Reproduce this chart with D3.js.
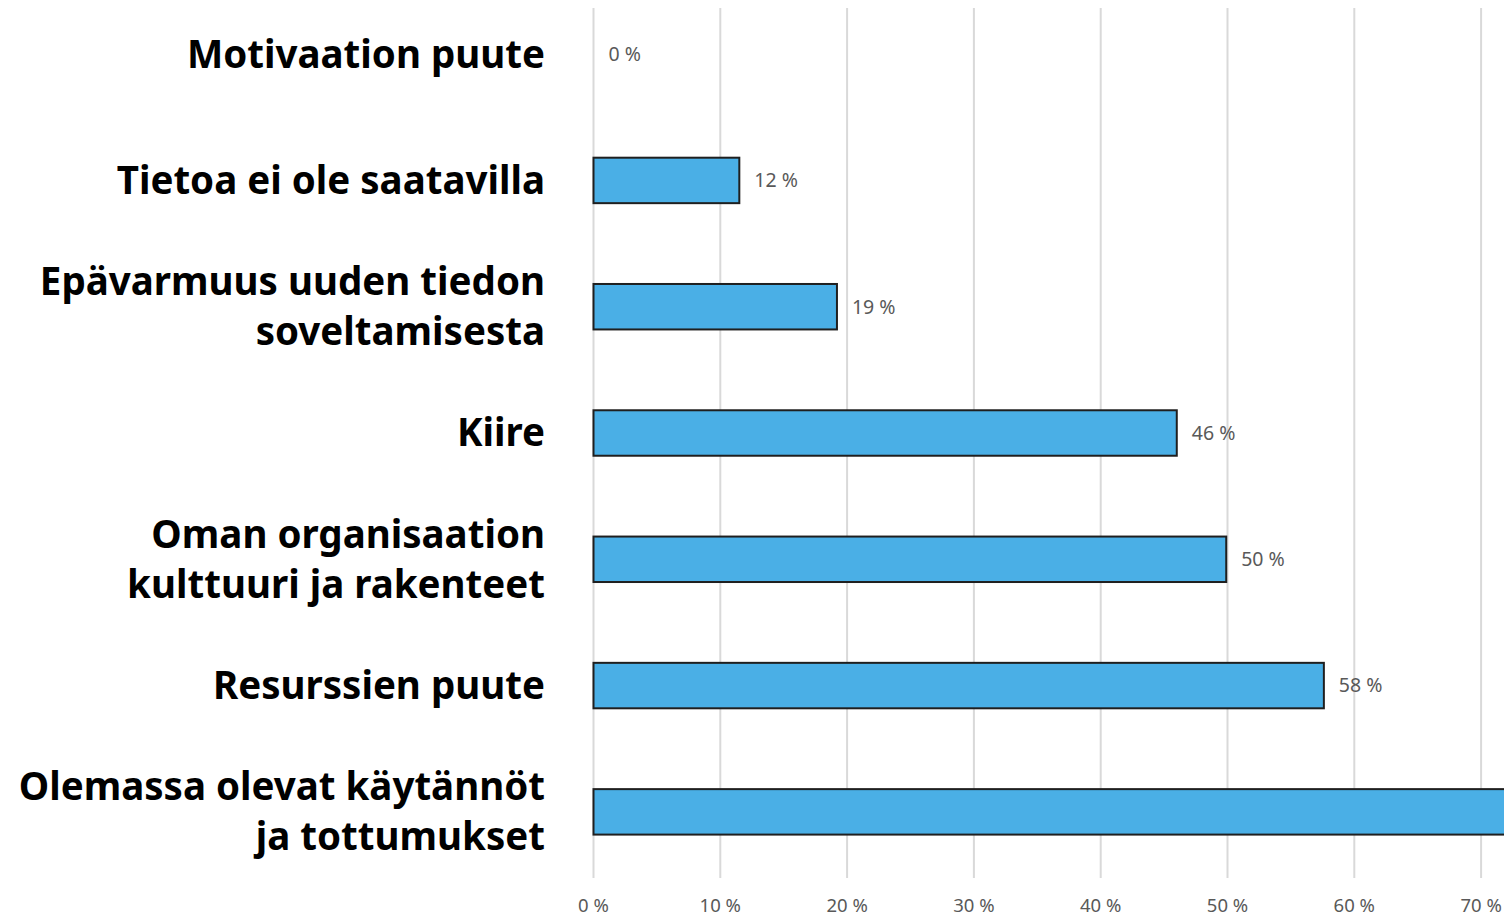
<!DOCTYPE html>
<html>
<head>
<meta charset="utf-8">
<script src="https://cdn.jsdelivr.net/npm/d3@7"></script>
<style>
	body { margin: 0; background: #fff; }
	svg { display: block; }
</style>
</head>
<body>
<svg></svg>
<script>
// categories top to bottom, labels split into lines
const categories = [
	['Motivaation puute'],
	['Tietoa ei ole saatavilla'],
	['Epävarmuus uuden tiedon', 'soveltamisesta'],
	['Kiire'],
	['Oman organisaation', 'kulttuuri ja rakenteet'],
	['Resurssien puute'],
	['Olemassa olevat käytännöt', 'ja tottumukset']
]
const values = [0, 11.5, 19.2, 46, 49.9, 57.6, 78]
const valueLabels = ['0 %', '12 %', '19 %', '46 %', '50 %', '58 %', '78 %']
const ticks = [0, 10, 20, 30, 40, 50, 60, 70]

const width = 1504,
	height = 916

const svg = d3.select('svg')
	.attr('width', width)
	.attr('height', height)

const x = d3.scaleLinear()
	.domain([0, 80])
	.range([593.5, 593.5 + 8 * 126.8])

const y = d3.scaleBand()
	.domain(d3.range(categories.length))
	.range([-9, 875])
	.paddingInner(0.64)
	.paddingOuter(0.32)

// gridlines
svg.append('g')
	.selectAll('line')
	.data(ticks)
	.enter()
	.append('line')
	.attr('x1', d => x(d))
	.attr('x2', d => x(d))
	.attr('y1', 8)
	.attr('y2', 878)
	.attr('stroke', '#d9d9d9')
	.attr('stroke-width', 2)

// tick labels
svg.append('g')
	.selectAll('text')
	.data(ticks)
	.enter()
	.append('text')
	.attr('x', d => x(d))
	.attr('y', 912)
	.attr('text-anchor', 'middle')
	.attr('font-family', 'Noto Sans, sans-serif')
	.attr('font-size', 18.5)
	.attr('fill', '#595959')
	.text(d => d + ' %')

// bars
svg.append('g')
	.selectAll('rect')
	.data(values)
	.enter()
	.append('rect')
	.attr('x', x(0))
	.attr('y', (d, i) => y(i))
	.attr('width', d => x(d) - x(0))
	.attr('height', y.bandwidth())
	.attr('fill', '#4aafe6')
	.attr('stroke', '#1f1f1f')
	.attr('stroke-width', d => d > 0 ? 2 : 0)

// value labels (the one past the right edge is cropped away in the original)
svg.append('g')
	.selectAll('text')
	.data(values.map((v, i) => ({ v, i })).filter(d => x(d.v) + 60 < width))
	.enter()
	.append('text')
	.attr('x', d => x(d.v) + 15)
	.attr('y', d => y(d.i) + y.bandwidth() / 2)
	.attr('dy', '.35em')
	.attr('font-family', 'Noto Sans, sans-serif')
	.attr('font-size', 19.5)
	.attr('fill', '#595959')
	.text(d => valueLabels[d.i])

// category labels
const cat = svg.append('g')
	.selectAll('text')
	.data(categories)
	.enter()
	.append('text')
	.attr('x', 545)
	.attr('y', (d, i) => y(i) + y.bandwidth() / 2)
	.attr('text-anchor', 'end')
	.attr('font-family', 'Noto Sans, sans-serif')
	.attr('font-weight', 'bold')
	.attr('font-size', 38.5)
	.attr('fill', '#000')

cat.selectAll('tspan')
	.data(d => d.map((t, j) => ({ t, j, n: d.length })))
	.enter()
	.append('tspan')
	.attr('x', 545)
	.attr('dy', d => d.j === 0 ? ((0.35 - (d.n - 1) * 0.65) + 'em') : '1.3em')
	.text(d => d.t)
</script>
</body>
</html>
